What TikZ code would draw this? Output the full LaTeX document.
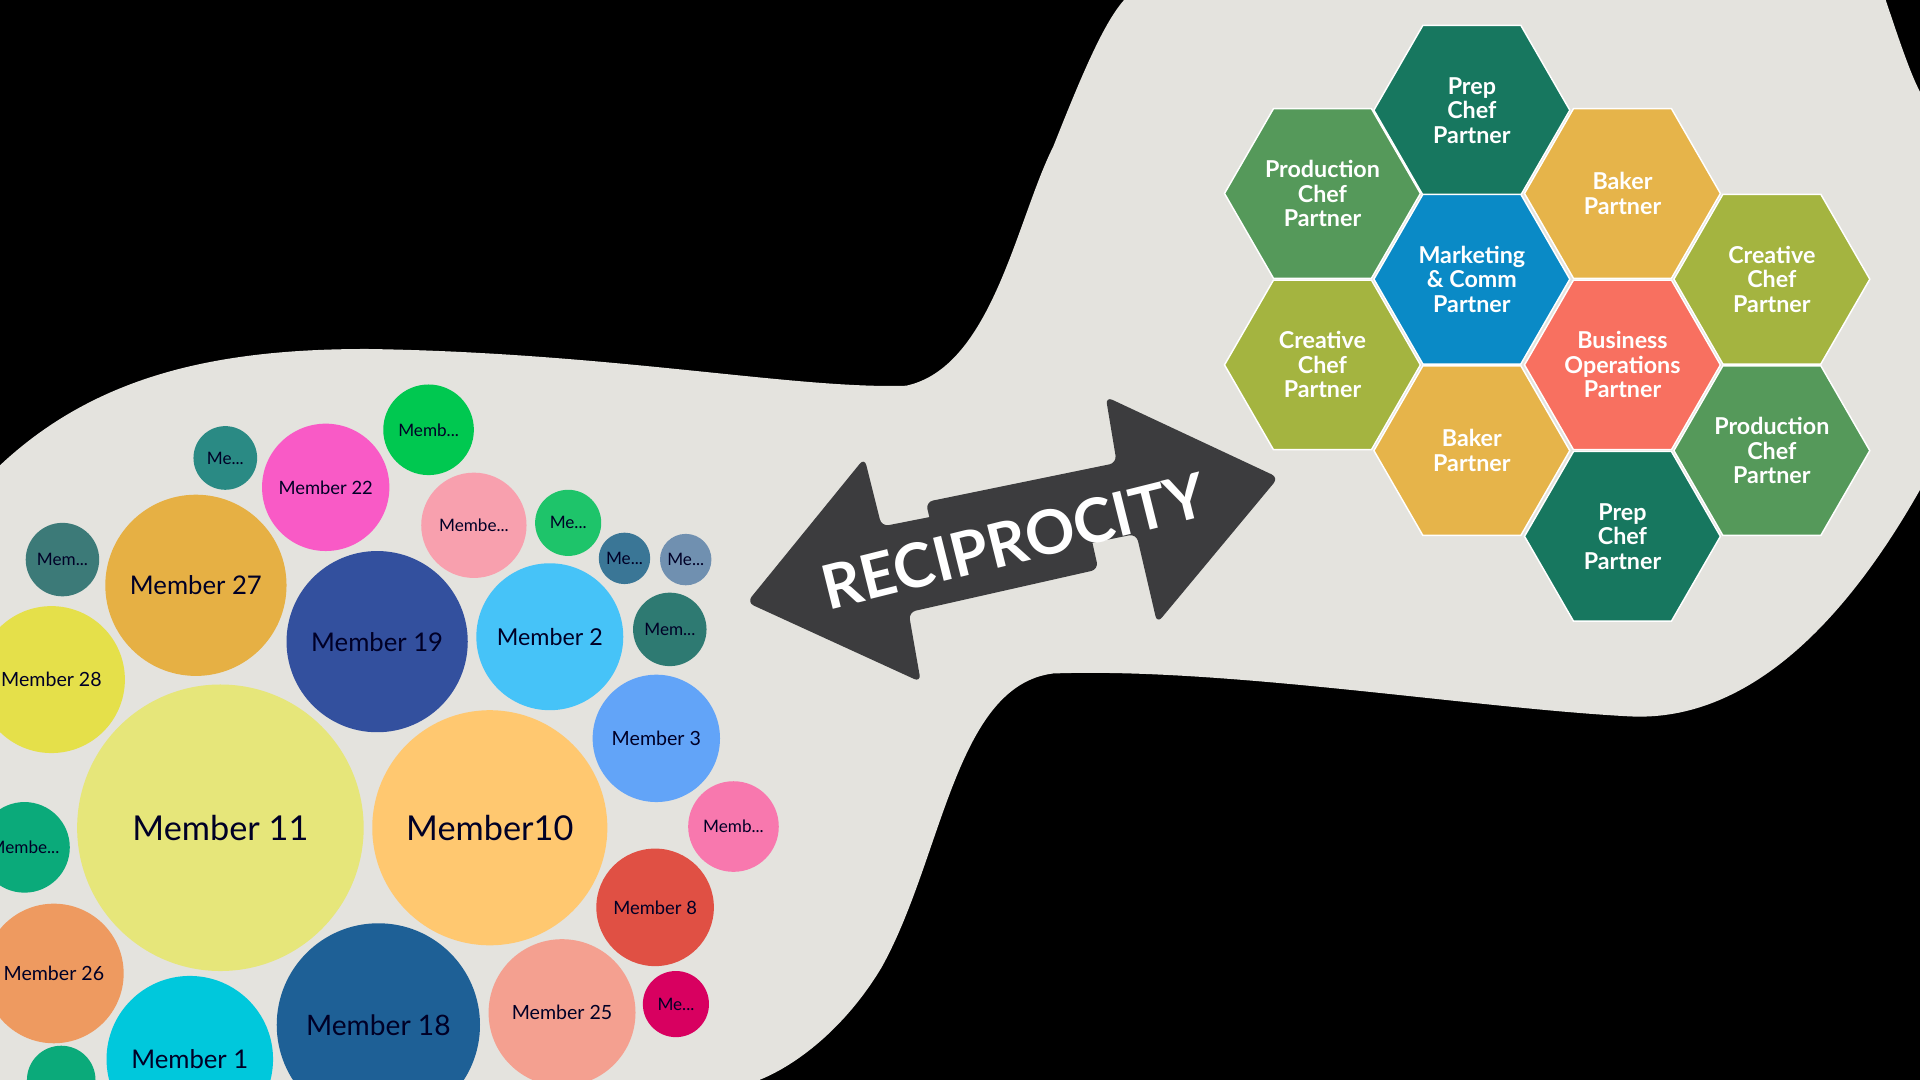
\documentclass[tikz,border=0pt]{standalone}
\usepackage{fontspec}
\setmainfont{Lato}
\usetikzlibrary{shapes.geometric}
\newcommand\myel{...}
\begin{document}
\begin{tikzpicture}[x=1pt,y=-1pt,
  hexbox/.style={regular polygon,regular polygon sides=6,minimum size=160pt,inner sep=0pt,draw=white,line width=1.2pt,text=white,font=\bfseries\fontsize{19}{20}\selectfont,align=center},
  mem/.style={circle,inner sep=0pt,text=black!85!blue,align=center}]
\definecolor{blobc}{HTML}{E4E3DE}
\definecolor{arr}{HTML}{3C3C3E}
\useasboundingbox (0,0) rectangle (1568,882);
\fill[black] (0,0) rectangle (1568,882);
\fill[blobc] (0,380) .. controls (80,305) and (180,285) .. (300,285) .. controls (500,288) and (650,318) .. (740,315) .. controls (810,300) and (830,180) .. (860,120) .. controls (880,70) and (900,20) .. (918,0) -- (1540,0) .. controls (1550,30) and (1560,60) .. (1568,75) -- (1568,400) .. controls (1500,520) and (1420,590) .. (1330,585) .. controls (1200,578) and (1000,545) .. (860,550) .. controls (780,560) and (770,700) .. (720,790) .. controls (690,840) and (650,870) .. (620,882) -- (0,882) -- cycle;
% circles
\foreach \n/\x/\y/\r/\c/\t/\s in {
 a/180/676/117/E6E67A/Member 11/28,
 b/400/676/96/FFC870/Member10/28,
 c/309/837/83/1E6096/Member 18/23,
 d/155/865/68/00C8DC/Member 1/21,
 e/44/795/57/EE9A60/Member 26/16,
 f/20/692/37/0BAA7A/Membe\myel/14,
 g/42/555/60/E5E04A/Member 28/16,
 h/51/457/30/3C7A78/Mem\myel/14,
 i/160/478/74/E6B044/Member 27/21,
 j/184/374/26/2A8A84/Me\myel/14,
 k/266/398/52/F95AC6/Member 22/15,
 l/350/351/37/00C850/Memb\myel/14,
 m/308/524/74/33509E/Member 19/21,
 n/387/429/43/F8A0AE/Membe\myel/14,
 o/464/427/27/1EC46A/Me\myel/14,
 p/449/520/60/46C3F8/Member 2/19,
 q/510/456/21/3A7696/Me\myel/14,
 r/560/457/21/7090B0/Me\myel/14,
 s/547/514/30/2E7A72/Mem\myel/14,
 t/536/603/52/62A4F8/Member 3/16,
 u/599/675/37/F878AE/Memb\myel/14,
 v/535/741/48/E05044/Member 8/15,
 w/552/820/27/D80060/Me\myel/14,
 x/459/827/60/F4A090/Member 25/16,
 y/50/882/28/0BAA7A//14}{
  \definecolor{cc}{HTML}{\c}
  \node[mem,fill=cc,minimum size=2*\r pt,font=\fontsize{\s}{\s}\selectfont] (c\n) at (\x,\y) {\t};
}
% arrows
\fill[arr,rounded corners=6pt] (610,492) -- (706,374) -- (720,430) -- (882,398) -- (897,465) -- (742,500) -- (752,557) -- cycle;
\fill[arr,rounded corners=6pt] (1044,390) -- (903,324) -- (912,378) -- (756,410) -- (770,468) -- (928,436) -- (945,509) -- cycle;
\node[text=white,font=\bfseries\fontsize{50}{50}\selectfont,rotate=14] (rec) at (828,442) {RECIPROCITY};
% hexagons
\foreach \n/\x/\y/\c/\t in {
 h1/1080/158/55995A/{Production\\Chef\\Partner},
 h2/1202/90/17775F/{Prep\\Chef\\Partner},
 h3/1325/158/E6B44A/{Baker\\Partner},
 h4/1202/228/0A8AC6/{Marketing\\\& Comm\\Partner},
 h5/1447/228/A4B440/{Creative\\Chef\\Partner},
 h6/1080/298/A4B440/{Creative\\Chef\\Partner},
 h7/1325/298/F87060/{Business\\Operations\\Partner},
 h8/1202/368/E6B44A/{Baker\\Partner},
 h9/1447/368/55995A/{Production\\Chef\\Partner},
 h10/1325/438/17775F/{Prep\\Chef\\Partner}}{
  \definecolor{hc}{HTML}{\c}
  \node[hexbox,fill=hc] (\n) at (\x,\y) {\t};
}
\end{tikzpicture}
\end{document}
